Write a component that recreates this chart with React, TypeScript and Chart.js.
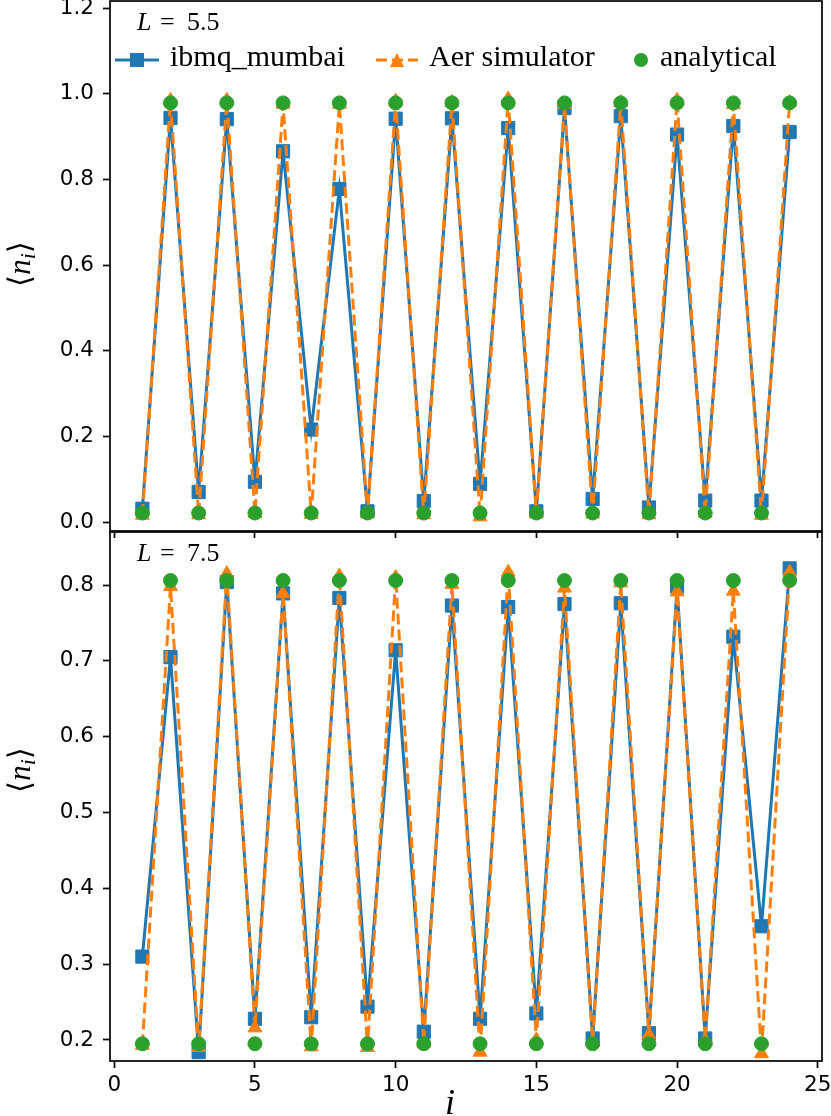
import React, { useEffect, useRef } from "react";
import { Chart, registerables } from "chart.js";

Chart.register(...registerables);

// ---------------- data ----------------
const sites = [1, 2, 3, 4, 5, 6, 7, 8, 9, 10, 11, 12, 13, 14, 15, 16, 17, 18, 19, 20, 21, 22, 23, 24];

const xTickValues = [0, 5, 10, 15, 20, 25];
const topYTickValues = [0.0, 0.2, 0.4, 0.6, 0.8, 1.0, 1.2];
const bottomYTickValues = [0.2, 0.3, 0.4, 0.5, 0.6, 0.7, 0.8];

const seriesNames = ["ibmq_mumbai", "Aer simulator", "analytical"];
const panelLValues = ["5.5", "7.5"];

// L = 5.5
const topIbmq = [0.031, 0.944, 0.070, 0.941, 0.094, 0.866, 0.216, 0.778, 0.025, 0.942, 0.049, 0.943, 0.089, 0.920, 0.025, 0.967, 0.054, 0.948, 0.034, 0.905, 0.050, 0.925, 0.050, 0.911];
const topAer = [0.016, 0.985, 0.017, 0.985, 0.020, 0.976, 0.018, 0.976, 0.020, 0.983, 0.017, 0.980, 0.012, 0.988, 0.020, 0.975, 0.019, 0.980, 0.017, 0.985, 0.020, 0.975, 0.016, 0.980];
const topAnalytical = [0.021, 0.979, 0.021, 0.979, 0.021, 0.979, 0.021, 0.979, 0.021, 0.979, 0.021, 0.979, 0.021, 0.979, 0.021, 0.979, 0.021, 0.979, 0.021, 0.979, 0.021, 0.979, 0.021, 0.979];

// L = 7.5
const bottomIbmq = [0.310, 0.705, 0.184, 0.804, 0.228, 0.789, 0.230, 0.783, 0.244, 0.714, 0.211, 0.773, 0.228, 0.771, 0.235, 0.775, 0.202, 0.776, 0.209, 0.798, 0.202, 0.732, 0.350, 0.822];
const bottomAer = [0.193, 0.798, 0.190, 0.815, 0.216, 0.789, 0.191, 0.812, 0.190, 0.810, 0.196, 0.801, 0.184, 0.817, 0.200, 0.796, 0.197, 0.803, 0.207, 0.791, 0.200, 0.792, 0.182, 0.817];
const bottomAnalytical = [0.195, 0.806, 0.195, 0.806, 0.195, 0.806, 0.195, 0.806, 0.195, 0.806, 0.195, 0.806, 0.195, 0.806, 0.195, 0.806, 0.195, 0.806, 0.195, 0.806, 0.195, 0.806, 0.195, 0.806];

// ---------------- styling / layout ----------------
const W = 831;
const H = 1116;
const PLOT_LEFT = 110;
const PLOT_RIGHT = 822;
const X_MIN = -0.15;
const X_MAX = 25.15;

const BLUE = "#1f77b4";
const ORANGE = "#ff7f0e";
const GREEN = "#2ca02c";

const TICK_FONT = "'DejaVu Sans', sans-serif";
const SERIF = "'Liberation Serif', 'DejaVu Serif', serif";

type Panel = {
  top: number;
  bottom: number;
  yMin: number;
  yMax: number;
  yTicks: number[];
  ibmq: number[];
  aer: number[];
  analytical: number[];
  lValue: string;
  showXLabels: boolean;
  showLegend: boolean;
  yLabelCenter: number;
  xAxisHeight: number;
};

const panels: Panel[] = [
  {
    top: 1,
    bottom: 531,
    yMin: -0.021,
    yMax: 1.217,
    yTicks: topYTickValues,
    ibmq: topIbmq,
    aer: topAer,
    analytical: topAnalytical,
    lValue: panelLValues[0],
    showXLabels: false,
    showLegend: true,
    yLabelCenter: 264,
    xAxisHeight: 10,
  },
  {
    top: 532,
    bottom: 1061,
    yMin: 0.1723,
    yMax: 0.87,
    yTicks: bottomYTickValues,
    ibmq: bottomIbmq,
    aer: bottomAer,
    analytical: bottomAnalytical,
    lValue: panelLValues[1],
    showXLabels: true,
    showLegend: false,
    yLabelCenter: 770,
    xAxisHeight: 45,
  },
];

function drawTriangle(ctx: CanvasRenderingContext2D, x: number, y: number, s: number) {
  ctx.beginPath();
  ctx.moveTo(x, y - s / 2);
  ctx.lineTo(x - s / 2, y + s / 2);
  ctx.lineTo(x + s / 2, y + s / 2);
  ctx.closePath();
  ctx.fill();
}

function makeDecoPlugin(panel: Panel, idx: number) {
  return {
    id: "deco" + idx,
    afterDraw(chart: any) {
      const ctx: CanvasRenderingContext2D = chart.ctx;
      const a = chart.chartArea;
      ctx.save();
      // frame
      ctx.strokeStyle = "#000";
      ctx.lineWidth = 1.7;
      ctx.setLineDash([]);
      ctx.strokeRect(a.left, a.top, a.right - a.left, a.bottom - a.top);

      // L = value
      ctx.fillStyle = "#000";
      ctx.textBaseline = "alphabetic";
      ctx.textAlign = "left";
      const base = a.top + 29;
      ctx.font = "italic 26px " + SERIF;
      ctx.fillText("L", 137, base);
      ctx.font = "26px " + SERIF;
      ctx.fillText("=", 160, base);
      ctx.fillText(panel.lValue, 187, base);

      // y label  <n_i>
      ctx.save();
      ctx.translate(22, panel.yLabelCenter);
      ctx.rotate(-Math.PI / 2);
      const fs = 31;
      const parts = [
        { t: "\u27E8", f: fs + "px 'DejaVu Serif', serif", dy: 0 },
        { t: "n", f: "italic " + fs + "px " + SERIF, dy: 0 },
        { t: "i", f: "italic " + Math.round(fs * 0.7) + "px " + SERIF, dy: 5 },
        { t: "\u27E9", f: fs + "px 'DejaVu Serif', serif", dy: 0 },
      ];
      let total = 0;
      const widths: number[] = [];
      for (const p of parts) {
        ctx.font = p.f;
        const w = ctx.measureText(p.t).width;
        widths.push(w);
        total += w;
      }
      let cx = -total / 2;
      parts.forEach((p, k) => {
        ctx.font = p.f;
        ctx.fillText(p.t, cx, 8 + p.dy);
        cx += widths[k];
      });
      ctx.restore();

      // x label
      if (panel.showXLabels) {
        ctx.font = "italic 36px " + SERIF;
        ctx.textAlign = "center";
        ctx.fillText("i", 450, 1114);
        ctx.textAlign = "left";
      }

      // legend
      if (panel.showLegend) {
        const ly = 60;
        const tb = 66;
        // ibmq
        ctx.strokeStyle = BLUE;
        ctx.lineWidth = 3;
        ctx.beginPath();
        ctx.moveTo(115, ly);
        ctx.lineTo(159, ly);
        ctx.stroke();
        ctx.fillStyle = BLUE;
        ctx.fillRect(137 - 7, ly - 7, 14, 14);
        // aer
        ctx.strokeStyle = ORANGE;
        ctx.setLineDash([11, 5]);
        ctx.beginPath();
        ctx.moveTo(376, ly);
        ctx.lineTo(418, ly);
        ctx.stroke();
        ctx.setLineDash([]);
        ctx.fillStyle = ORANGE;
        drawTriangle(ctx, 397, ly, 14);
        // analytical
        ctx.fillStyle = GREEN;
        ctx.beginPath();
        ctx.arc(641, ly, 7, 0, Math.PI * 2);
        ctx.fill();
        // texts
        ctx.fillStyle = "#000";
        ctx.font = "30px " + SERIF;
        ctx.fillText(seriesNames[0], 170, tb);
        ctx.fillText(seriesNames[1], 429, tb);
        ctx.fillText(seriesNames[2], 660, tb);
      }
      ctx.restore();
    },
  };
}

function makeConfig(panel: Panel, idx: number): any {
  const toPts = (arr: number[]) => sites.map((x, i) => ({ x, y: arr[i] }));
  return {
    type: "scatter",
    data: {
      datasets: [
        {
          label: seriesNames[0],
          data: toPts(panel.ibmq),
          showLine: true,
          borderColor: BLUE,
          backgroundColor: BLUE,
          borderWidth: 3,
          pointStyle: "rect",
          pointRadius: 9.3,
          pointBorderWidth: 1,
          pointBorderColor: BLUE,
          pointBackgroundColor: BLUE,
          order: 3,
        },
        {
          label: seriesNames[1],
          data: toPts(panel.aer),
          showLine: true,
          borderColor: ORANGE,
          backgroundColor: ORANGE,
          borderWidth: 3,
          borderDash: [11, 5],
          pointStyle: "triangle",
          pointRadius: 8,
          pointBorderWidth: 1,
          pointBorderColor: ORANGE,
          pointBackgroundColor: ORANGE,
          order: 2,
        },
        {
          label: seriesNames[2],
          data: toPts(panel.analytical),
          showLine: false,
          borderColor: GREEN,
          backgroundColor: GREEN,
          pointStyle: "circle",
          pointRadius: 7,
          pointBorderWidth: 1,
          pointBorderColor: GREEN,
          pointBackgroundColor: GREEN,
          order: 1,
        },
      ],
    },
    options: {
      responsive: false,
      maintainAspectRatio: false,
      animation: false,
      devicePixelRatio: 1,
      events: [],
      layout: {
        autoPadding: false,
        padding: {
          left: 0,
          right: W - PLOT_RIGHT,
          top: panel.top,
          bottom: H - panel.bottom - panel.xAxisHeight,
        },
      },
      plugins: {
        legend: { display: false },
        tooltip: { enabled: false },
        title: { display: false },
      },
      scales: {
        x: {
          type: "linear",
          position: "bottom",
          min: X_MIN,
          max: X_MAX,
          afterBuildTicks: (scale: any) => {
            scale.ticks = xTickValues.map((v) => ({ value: v }));
          },
          afterFit: (scale: any) => {
            scale.height = panel.xAxisHeight;
            scale.paddingLeft = 0;
            scale.paddingRight = 0;
            scale.paddingTop = 0;
            scale.paddingBottom = 0;
          },
          border: { display: false },
          grid: {
            drawOnChartArea: false,
            drawTicks: true,
            tickLength: 7,
            tickWidth: 1.7,
            tickColor: "#000",
          },
          ticks: {
            display: panel.showXLabels,
            autoSkip: false,
            maxRotation: 0,
            padding: 5,
            color: "#000",
            font: { family: TICK_FONT, size: 21.5 },
            callback: (v: any) => String(v),
          },
        },
        y: {
          type: "linear",
          min: panel.yMin,
          max: panel.yMax,
          afterBuildTicks: (scale: any) => {
            scale.ticks = panel.yTicks.map((v) => ({ value: v }));
          },
          afterFit: (scale: any) => {
            scale.width = PLOT_LEFT;
            scale.paddingLeft = 0;
            scale.paddingRight = 0;
            scale.paddingTop = 0;
            scale.paddingBottom = 0;
          },
          border: { display: false },
          grid: {
            drawOnChartArea: false,
            drawTicks: true,
            tickLength: 7,
            tickWidth: 1.7,
            tickColor: "#000",
          },
          ticks: {
            autoSkip: false,
            padding: 9,
            color: "#000",
            font: { family: TICK_FONT, size: 21.5 },
            callback: (v: any) => Number(v).toFixed(1),
          },
        },
      },
    },
    plugins: [makeDecoPlugin(panel, idx)],
  };
}

export default function App() {
  const topRef = useRef<HTMLCanvasElement | null>(null);
  const bottomRef = useRef<HTMLCanvasElement | null>(null);

  useEffect(() => {
    const charts: Chart[] = [];
    const refs = [topRef, bottomRef];
    panels.forEach((p, i) => {
      const c = refs[i].current;
      if (c) charts.push(new Chart(c, makeConfig(p, i)));
    });
    return () => {
      charts.forEach((c) => c.destroy());
    };
  }, []);

  const canvasStyle: React.CSSProperties = {
    position: "absolute",
    left: 0,
    top: 0,
    width: W + "px",
    height: H + "px",
  };

  return (
    <div style={{ position: "absolute", left: 0, top: 0, width: W, height: H, background: "#fff", overflow: "hidden" }}>
      <canvas ref={topRef} width={W} height={H} style={canvasStyle} />
      <canvas ref={bottomRef} width={W} height={H} style={canvasStyle} />
    </div>
  );
}
